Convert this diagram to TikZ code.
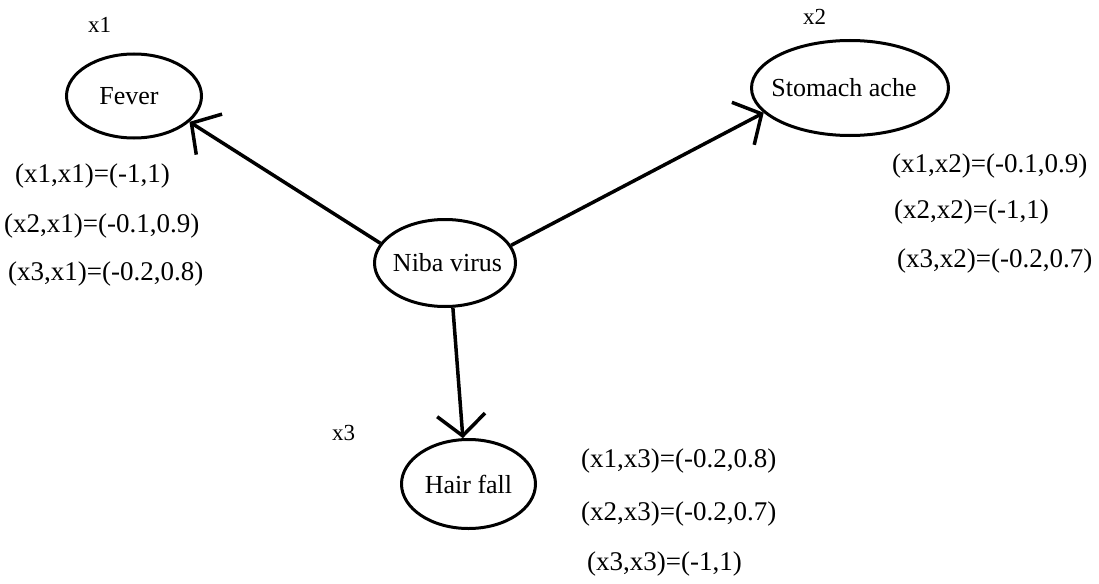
\documentclass[tikz,border=0pt]{standalone}
\usepackage{fontspec}
\setmainfont{Liberation Serif}
\usetikzlibrary{shapes.geometric,arrows.meta}
\begin{document}
\begin{tikzpicture}[x=1pt,y=-1pt,
  state/.style={draw, line width=3pt, ellipse, inner sep=0pt, font=\fontsize{26}{30}\selectfont},
  rel/.style={-{Straight Barb[length=21pt,width=48pt]}, line width=3.5pt},
  lbl/.style={anchor=base west, inner sep=0pt, font=\fontsize{27}{31}\selectfont},
  var/.style={anchor=base west, inner sep=0pt, font=\fontsize{23}{26}\selectfont}]
\useasboundingbox (0,0) rectangle (1099,583);
% nodes
\node[state, minimum width=135pt, minimum height=84pt] (fever) at (134,96) {\makebox[0pt]{\kern-10pt Fever}};
\node[state, minimum width=197pt, minimum height=95pt] (stomach) at (850,88) {\makebox[0pt]{\kern-12pt Stomach ache}};
\node[state, minimum width=141pt, minimum height=87pt] (niba) at (445,263) {\makebox[0pt]{\kern5pt Niba virus}};
\node[state, minimum width=134pt, minimum height=89pt] (hair) at (468.5,484) {\makebox[0pt]{Hair fall}};
% connectors
\draw[rel] (niba.163) -- (fever.-25);
\draw[rel] (niba.15) -- (stomach.-164);
\draw[rel] (niba.-80) -- (hair.97);
% variable labels
\node[var] (v1) at (88,33) {x1};
\node[var] (v2) at (803,25) {x2};
\node[var] (v3) at (332,440) {x3};
% relation labels
\node[lbl] (a11) at (15,182) {(x1,x1)=(-1,1)};
\node[lbl] (a21) at (4,232) {(x2,x1)=(-0.1,0.9)};
\node[lbl] (a31) at (8,280) {(x3,x1)=(-0.2,0.8)};
\node[lbl] (a12) at (892,172) {(x1,x2)=(-0.1,0.9)};
\node[lbl] (a22) at (894,218) {(x2,x2)=(-1,1)};
\node[lbl] (a32) at (897,267) {(x3,x2)=(-0.2,0.7)};
\node[lbl] (a13) at (581,467) {(x1,x3)=(-0.2,0.8)};
\node[lbl] (a23) at (581,520) {(x2,x3)=(-0.2,0.7)};
\node[lbl] (a33) at (587,570) {(x3,x3)=(-1,1)};
\end{tikzpicture}
\end{document}
